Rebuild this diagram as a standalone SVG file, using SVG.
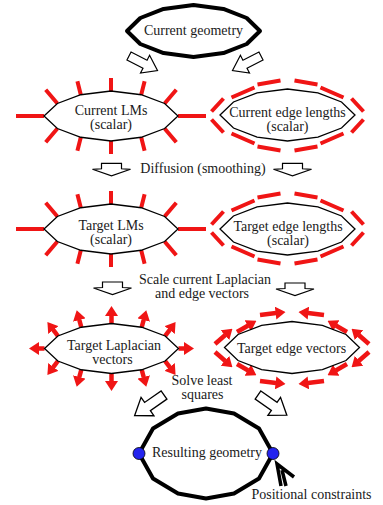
<svg xmlns="http://www.w3.org/2000/svg" width="383" height="505" viewBox="0 0 383 505">
<style>
text{font-family:"Liberation Serif","Times New Roman",serif;font-size:14px;fill:#1a1a1a;text-anchor:middle}
.nd{fill:#fff;stroke:#000;stroke-width:1.3}
.thick{fill:#fff;stroke:#000;stroke-width:4;stroke-linejoin:round}
.spk{stroke:#f01515;stroke-width:4;fill:none}
.vec path{stroke:#f01515;stroke-width:4.5;fill:none;marker-end:url(#ah)}
.ha{fill:#fff;stroke:#000;stroke-width:1.2}
.dot{fill:#2424ee;stroke:#000;stroke-width:0.8}
</style>
<defs>
<marker id="ah" viewBox="0 0 10 13" markerUnits="userSpaceOnUse" markerWidth="10" markerHeight="13" refX="0.5" refY="6.5" orient="auto"><path d="M0,0 L10,6.5 L0,13 z" fill="#f01515"/></marker>
<polygon id="lmShape" points="-67,0 -53.6,-12.5 -30.2,-21.25 0,-25 30.2,-21.25 53.6,-12.5 67,0 53.6,12.5 30.2,21.25 0,25 -30.2,21.25 -53.6,12.5"/>
<polygon id="edShape" points="-67.5,0 -54,-13 -30.4,-22.1 0,-26 30.4,-22.1 54,-13 67.5,0 54,13 30.4,22.1 0,26 -30.4,22.1 -54,13"/>
<path id="spikes" d="M-67,0H-95 M67,0H95 M-53.6,-12.5L-65.3,-26.2 M-30.2,-21.25L-33.6,-34.85 M0,-25V-38 M30.2,-21.25L33.6,-34.85 M53.6,-12.5L65.3,-26.2 M-53.6,12.5L-65.3,26.2 M-30.2,21.25L-33.6,34.85 M0,25V38 M30.2,21.25L33.6,34.85 M53.6,12.5L65.3,26.2"/>
<path id="dashes" d="M-76,-4L-64,-17 M-56,-18L-33,-28 M-30,-31L-7,-35 M76,-4L64,-17 M56,-18L33,-28 M30,-31L7,-35 M-76,4L-64,17 M-56,18L-33,28 M-30,31L-7,35 M76,4L64,17 M56,18L33,28 M30,31L7,35"/>
<polygon id="dn" points="-10,0 10,0 10,5.5 19,6 0,12.5 -19,6 -10,5.5"/>
<polygon id="diag" points="0,-4.5 18,-4.5 18,-10 32,0 18,10 18,4.5 0,4.5"/>
</defs>

<g id="connectors">
<use href="#diag" class="ha" transform="translate(129,56) rotate(27)"/>
<use href="#diag" class="ha" transform="translate(261,56) rotate(153)"/>
<use href="#dn" class="ha" transform="translate(111.5,163.3)"/>
<use href="#dn" class="ha" transform="translate(292.5,163.3)"/>
<use href="#dn" class="ha" transform="translate(112.5,282)"/>
<use href="#dn" class="ha" transform="translate(295,283)"/>
<use href="#diag" class="ha" transform="translate(164,395) rotate(145) scale(1.12)"/>
<use href="#diag" class="ha" transform="translate(258,395) rotate(35) scale(1.1)"/>
<path d="M281,486 L277,464 L294,477 M286,486 L282,470" fill="none" stroke="#000" stroke-width="3.5" stroke-linejoin="miter"/>
</g>

<g id="current-geometry">
<polygon class="thick" points="127,31 140.3,18 163.6,8.9 193.5,5 223.4,8.9 246.7,18 260,31 246.7,44 223.4,53.1 193.5,57 163.6,53.1 140.3,44"/>
<text x="193.5" y="35">Current geometry</text>
</g>

<g id="current-lms">
<use href="#spikes" class="spk" transform="translate(111,116)"/>
<use href="#lmShape" class="nd" transform="translate(111,116)"/>
<text x="111" y="115">Current LMs</text>
<text x="111" y="129">(scalar)</text>
</g>

<g id="current-edge-lengths">
<use href="#dashes" class="spk" transform="translate(287.5,115.5)"/>
<use href="#edShape" class="nd" transform="translate(287.5,115)"/>
<text x="287.5" y="117">Current edge lengths</text>
<text x="287.5" y="131">(scalar)</text>
</g>

<g id="diffusion-label">
<text x="203" y="173">Diffusion (smoothing)</text>
</g>

<g id="target-lms">
<use href="#spikes" class="spk" transform="translate(111,229)"/>
<use href="#lmShape" class="nd" transform="translate(111,229)"/>
<text x="111" y="230">Target LMs</text>
<text x="111" y="244">(scalar)</text>
</g>

<g id="target-edge-lengths">
<use href="#dashes" class="spk" transform="translate(287.5,228.5)"/>
<use href="#edShape" class="nd" transform="translate(287.5,229)"/>
<text x="288" y="231">Target edge lengths</text>
<text x="288" y="245">(scalar)</text>
</g>

<g id="scale-label">
<text x="205" y="284">Scale current Laplacian</text>
<text x="202" y="298">and edge vectors</text>
</g>

<g id="target-laplacian-vectors">
<g class="vec" transform="translate(111.5,348.5)">
<path d="M-67,0H-73"/><path d="M67,0H73"/>
<path d="M-53.6,-12.5L-58.4,-18.9"/><path d="M53.6,-12.5L58.4,-18.9"/>
<path d="M-53.6,12.5L-58.4,18.9"/><path d="M53.6,12.5L58.4,18.9"/>
<path d="M-30.2,-21.25L-32.3,-29"/><path d="M30.2,-21.25L32.3,-29"/>
<path d="M-30.2,21.25L-32.3,29"/><path d="M30.2,21.25L32.3,29"/>
<path d="M0,-25V-33"/><path d="M0,25V33"/>
</g>
<use href="#lmShape" class="nd" transform="translate(111.5,348.5)"/>
<text x="114" y="350">Target Laplacian</text>
<text x="112.5" y="364">vectors</text>
</g>

<g id="target-edge-vectors">
<g class="vec" transform="translate(292,348)">
<path d="M-77,-4L-66.7,-13.05"/><path d="M-55,-16L-43.8,-22.5"/><path d="M-32,-33L-15.9,-34.9"/>
<path d="M77,-4L66.7,-13.05"/><path d="M55,-16L43.8,-22.5"/><path d="M32,-33L15.9,-34.9"/>
<path d="M-77,4L-66.7,13.05"/><path d="M-55,16L-43.8,22.5"/><path d="M-32,33L-15.9,34.9"/>
<path d="M77,4L66.7,13.05"/><path d="M55,16L43.8,22.5"/><path d="M32,33L15.9,34.9"/>
</g>
<use href="#edShape" class="nd" transform="translate(292,347.5)"/>
<text x="291.5" y="353">Target edge vectors</text>
</g>

<g id="solve-label">
<text x="202" y="385">Solve least</text>
<text x="202.5" y="399">squares</text>
</g>

<g id="resulting-geometry">
<polygon points="139,453.5 153,428.5 178,413.5 206,408.5 234,413.5 259,428.5 273,453.5 259,478.5 234,493.5 206,498.5 178,493.5 153,478.5" fill="#fff" stroke="#000" stroke-width="4" stroke-linejoin="round"/>
<circle class="dot" cx="139" cy="453.5" r="6"/>
<circle class="dot" cx="273" cy="453.5" r="6"/>
<text x="207" y="457">Resulting geometry</text>
</g>

<g id="positional-constraints-label">
<text x="311.5" y="499">Positional constraints</text>
</g>
</svg>
